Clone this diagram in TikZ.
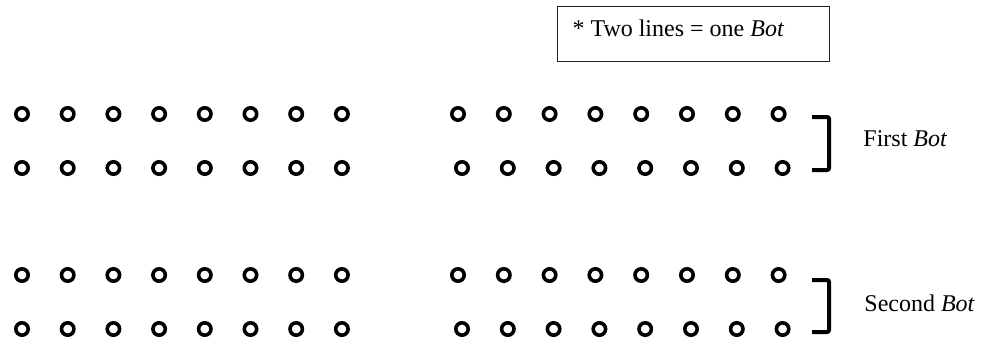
\documentclass[tikz,border=0pt]{standalone}
\usepackage{fontspec}
\setmainfont{Liberation Serif}
\usepackage{tikz}
\usetikzlibrary{positioning}
\definecolor{holeblack}{HTML}{000000}
\definecolor{notegrey}{HTML}{222222}

\tikzset{
  hole/.style={circle, draw=holeblack, line width=1.8pt, minimum size=6.2pt, inner sep=0pt},
  botbracket/.style={draw=holeblack, line width=2pt, rounded corners=1pt},
  botlabel/.style={font=\fontsize{12}{14}\selectfont, anchor=base west, inner sep=0pt},
}

\begin{document}
\begin{tikzpicture}[x=0.5pt, y=-0.5pt]
      \useasboundingbox (0,0) rectangle (984,343);
      \node[draw=notegrey, line width=0.5pt, anchor=north west, font=\fontsize{12}{14}\selectfont,
        text height=15pt, text depth=12.5pt, inner xsep=7.5pt, inner ysep=0pt]
        (note) at (557,6) {\makebox[121pt][l]{* Two lines = one \textit{Bot}}};
      \foreach \r/\y in {1/114, 2/168, 3/275, 4/329}{ \foreach \c in {1,...,8}{
          \node[hole] (left-\r-\c) at ({22+45.7*(\c-1)},\y) {};
      }}
      \foreach \r/\y/\dx in {1/114/0, 2/168/4, 3/275/0, 4/329/4}{ \foreach \c in {1,...,8}{
          \node[hole] (right-\r-\c) at ({458+\dx+45.8*(\c-1)},\y) {};
      }}
      \draw[botbracket] (812,117) -| (829,170) -- (812,170);
      \draw[botbracket] (812,280) -| (829,332) -- (812,332);
      \node[botlabel] (first) at (863,146) {First \textit{Bot}};
      \node[botlabel] (second) at (864,311) {Second \textit{Bot}};
    \end{tikzpicture}
\end{document}
